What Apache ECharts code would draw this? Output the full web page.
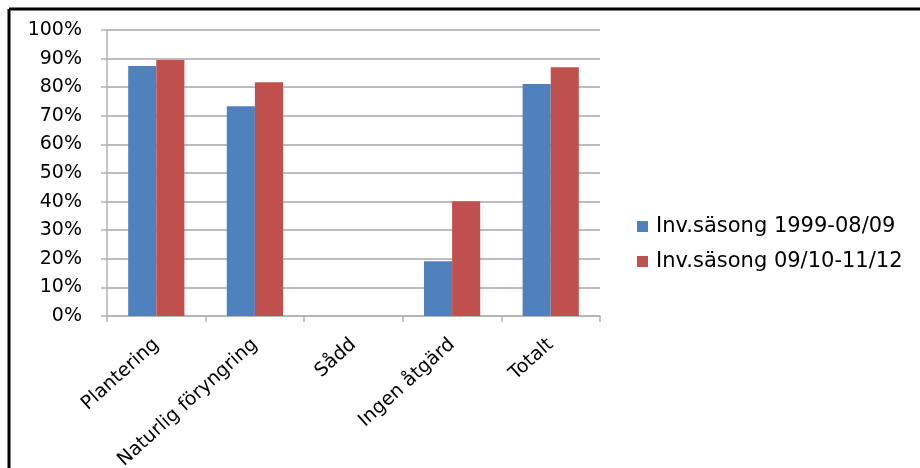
<!DOCTYPE html>
<html>
<head>
<meta charset="utf-8">
<script src="https://cdn.jsdelivr.net/npm/echarts@6/dist/echarts.min.js"></script>
<style>
  html, body { margin: 0; padding: 0; background: #fff; }
  #chart { width: 920px; height: 468px; }
</style>
</head>
<body>
<div id="chart"></div>
<script>
// Andel (%) per åtgärd och inventeringssäsong
const categories = ['Plantering', 'Naturlig föryngring', 'Sådd', 'Ingen åtgärd', 'Totalt'];
const seriesNames = ['Inv.säsong 1999-08/09', 'Inv.säsong 09/10-11/12'];
const season1 = [87.4, 73.3, 0, 19.1, 81.1];
const season2 = [89.5, 81.7, 0, 40.1, 87.0];
const colors = ['#4F81BD', '#C0504D'];

const font = 'DejaVu Sans';
const chart = echarts.init(document.getElementById('chart'), null, { renderer: 'canvas' });

chart.setOption({
  animation: false,
  backgroundColor: '#ffffff',
  color: colors,
  textStyle: { fontFamily: font, color: '#000' },
  // frame along the top and left edges
  graphic: [
    { type: 'line', shape: { x1: 9, y1: 9, x2: 920, y2: 9 }, style: { stroke: '#000', lineWidth: 3 } },
    { type: 'line', shape: { x1: 9, y1: 9, x2: 9, y2: 468 }, style: { stroke: '#000', lineWidth: 3 } }
  ],
  grid: { left: 107, top: 30, right: 320, bottom: 152, containLabel: false, outerBoundsMode: 'none' },
  legend: {
    orient: 'vertical',
    left: 632,
    top: 211,
    itemWidth: 11,
    itemHeight: 11,
    itemGap: 14,
    icon: 'rect',
    textStyle: { fontFamily: font, fontSize: 21, lineHeight: 21, color: '#000', padding: [0, 0, 0, 3] },
    data: seriesNames
  },
  xAxis: {
    type: 'category',
    data: categories,
    axisLine: { lineStyle: { color: '#b3b3b3', width: 1.5 } },
    axisTick: { show: true, length: 6, lineStyle: { color: '#b3b3b3', width: 1.5 } },
    axisLabel: { rotate: 42, margin: 26, fontFamily: font, fontSize: 19, color: '#000', interval: 0 }
  },
  yAxis: {
    type: 'value',
    min: 0,
    max: 100,
    interval: 10,
    axisLine: { show: true, lineStyle: { color: '#b3b3b3', width: 1.5 } },
    axisTick: { show: true, length: 6, lineStyle: { color: '#b3b3b3', width: 1.5 } },
    axisLabel: { formatter: '{value}%', margin: 25, fontFamily: font, fontSize: 19, color: '#000' },
    splitLine: { show: true, lineStyle: { color: '#a6a6a6', width: 1.5 } }
  },
  series: [
    { name: seriesNames[0], type: 'bar', data: season1, barGap: '0%', barCategoryGap: '43%' },
    { name: seriesNames[1], type: 'bar', data: season2, barGap: '0%', barCategoryGap: '43%' }
  ]
});
</script>
</body>
</html>
